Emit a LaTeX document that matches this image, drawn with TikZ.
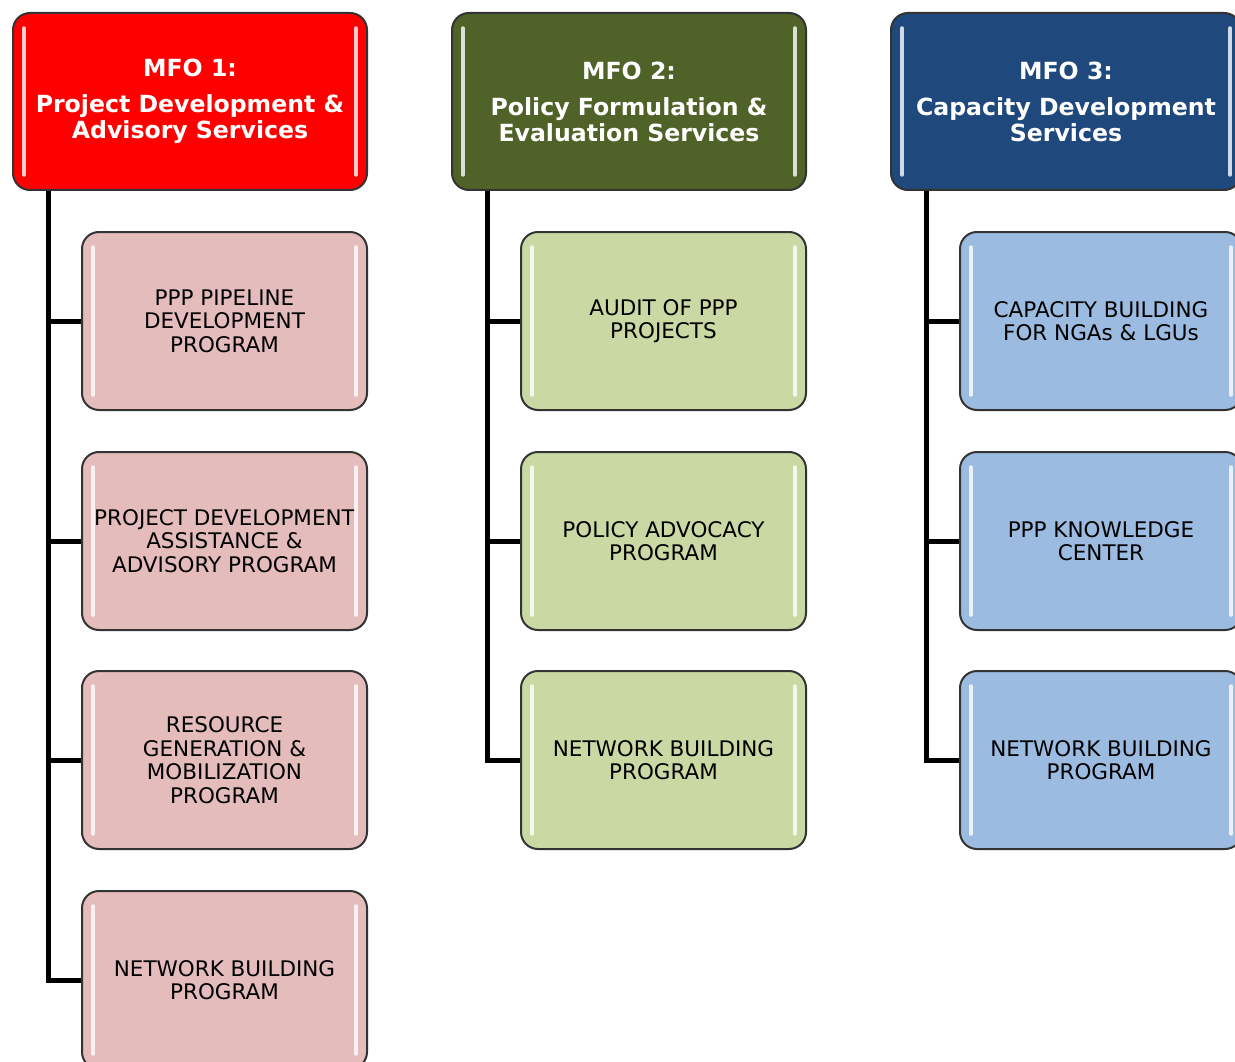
\documentclass[tikz,border=0pt]{standalone}
\usepackage{fontspec}
\setmainfont{DejaVu Sans}
\definecolor{hred}{HTML}{FF0000}
\definecolor{hgreen}{HTML}{4F6228}
\definecolor{hblue}{HTML}{1F497D}
\definecolor{cred}{HTML}{E5BCBC}
\definecolor{cgreen}{HTML}{CAD9A4}
\definecolor{cblue}{HTML}{9BBBE1}
\tikzset{
  box/.style={draw=black!80, line width=2pt, rounded corners=17pt, inner sep=0pt, align=center, anchor=north west},
  hdr/.style={box, minimum width=354pt, minimum height=177pt, text=white, font=\bfseries\fontsize{23.6}{26}\selectfont},
  kid/.style={box, minimum width=285pt, minimum height=178pt, text=black, font=\fontsize{21.5}{23.5}\selectfont},
  conn/.style={line width=5pt, draw=black},
  hl/.style={draw=white, opacity=0.8, line width=3.5pt, line cap=round}
}
\newcommand{\shine}[1]{%
  \draw[hl] ([shift={(12pt,-16pt)}]#1.north west) -- ([shift={(12pt,16pt)}]#1.south west);
  \draw[hl] ([shift={(-12pt,-16pt)}]#1.north east) -- ([shift={(-12pt,16pt)}]#1.south east);}
\begin{document}
\begin{tikzpicture}[x=1pt,y=-1pt]
\useasboundingbox (0,0) rectangle (1235,1062);
\clip (0,0) rectangle (1235,1062);
% headers
\node[hdr, fill=hred] (h1) at (12,12) {MFO 1:\\[10pt]Project Development \&\\Advisory Services};
\node[hdr, fill=hgreen] (h2) at (451,12) {MFO 2:\\[10pt]Policy Formulation \&\\Evaluation Services};
\node[hdr, fill=hblue, minimum width=350pt] (h3) at (890,12) {MFO 3:\\[10pt]Capacity Development\\Services};
% children column 1
\node[kid, fill=cred] (c11) at (81,231) {PPP PIPELINE\\DEVELOPMENT\\PROGRAM};
\node[kid, fill=cred] (c12) at (81,451) {PROJECT DEVELOPMENT\\ASSISTANCE \&\\ADVISORY PROGRAM};
\node[kid, fill=cred] (c13) at (81,670) {RESOURCE\\GENERATION \&\\MOBILIZATION\\PROGRAM};
\node[kid, fill=cred] (c14) at (81,890) {NETWORK BUILDING\\PROGRAM};
% children column 2
\node[kid, fill=cgreen] (c21) at (520,231) {AUDIT OF PPP\\PROJECTS};
\node[kid, fill=cgreen] (c22) at (520,451) {POLICY ADVOCACY\\PROGRAM};
\node[kid, fill=cgreen] (c23) at (520,670) {NETWORK BUILDING\\PROGRAM};
% children column 3
\node[kid, fill=cblue, minimum width=282pt] (c31) at (959,231) {CAPACITY BUILDING\\FOR NGAs \& LGUs};
\node[kid, fill=cblue, minimum width=282pt] (c32) at (959,451) {PPP KNOWLEDGE\\CENTER};
\node[kid, fill=cblue, minimum width=282pt] (c33) at (959,670) {NETWORK BUILDING\\PROGRAM};
% highlights
\shine{h1}\shine{h2}\shine{h3}
\shine{c11}\shine{c12}\shine{c13}\shine{c14}
\shine{c21}\shine{c22}\shine{c23}
\shine{c31}\shine{c32}\shine{c33}
% connectors
\coordinate (t1) at ([xshift=36pt]h1.south west);
\coordinate (t2) at ([xshift=36pt]h2.south west);
\coordinate (t3) at ([xshift=36pt]h3.south west);
\draw[conn] (t1) |- (c14.west);
\draw[conn] (t1) |- (c11.west);
\draw[conn] (t1) |- (c12.west);
\draw[conn] (t1) |- (c13.west);
\draw[conn] (t2) |- (c23.west);
\draw[conn] (t2) |- (c21.west);
\draw[conn] (t2) |- (c22.west);
\draw[conn] (t3) |- (c33.west);
\draw[conn] (t3) |- (c31.west);
\draw[conn] (t3) |- (c32.west);
\end{tikzpicture}
\end{document}
